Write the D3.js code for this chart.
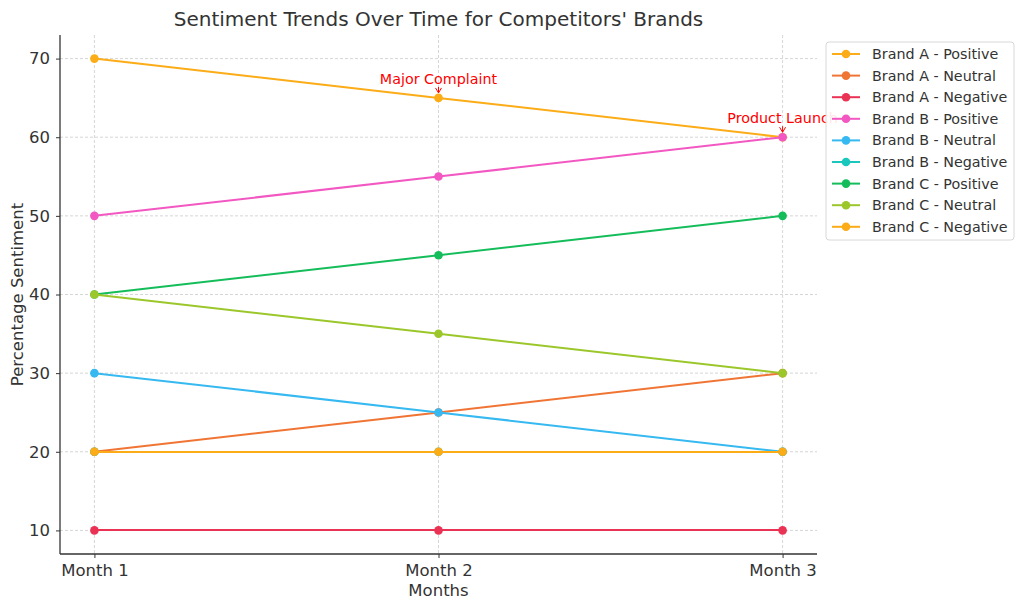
<!DOCTYPE html>
<html><head><meta charset="utf-8">
<script src="https://cdn.jsdelivr.net/npm/d3@7"></script>
<style>body{margin:0;background:#fff;} svg text{font-family:"DejaVu Sans",sans-serif;}</style>
</head><body><svg id="c" width="1024" height="610"></svg>
<script>
const months = ["Month 1", "Month 2", "Month 3"];
const seriesNames = ["Brand A - Positive","Brand A - Neutral","Brand A - Negative","Brand B - Positive","Brand B - Neutral","Brand B - Negative","Brand C - Positive","Brand C - Neutral","Brand C - Negative"];
const brandAPositive = [70, 65, 60];
const brandANeutral = [20, 25, 30];
const brandANegative = [10, 10, 10];
const brandBPositive = [50, 55, 60];
const brandBNeutral = [30, 25, 20];
const brandBNegative = [20, 20, 20];
const brandCPositive = [40, 45, 50];
const brandCNeutral = [40, 35, 30];
const brandCNegative = [20, 20, 20];
const colors = ["#fbac17","#f07535","#ea3354","#f257c2","#36b9f0","#1ac7bd","#14bd5a","#9bc72a","#fbac17"];
const yTicks = [10, 20, 30, 40, 50, 60, 70];
const annotations = [{text:"Major Complaint", month:1, value:65},{text:"Product Launch", month:2, value:60}];

const allSeries = [brandAPositive,brandANeutral,brandANegative,brandBPositive,brandBNeutral,brandBNegative,brandCPositive,brandCNeutral,brandCNegative];

const svg = d3.select("#c");
const L=60, R=817, T=35, B=554;
const x = d3.scaleLinear().domain([-0.1, 2.1]).range([L, R]);
const y = d3.scaleLinear().domain([7, 73]).range([B, T]);

// grid
const g = svg.append("g");
g.selectAll(".hg").data(yTicks).enter().append("line")
  .attr("x1", L).attr("x2", R).attr("y1", d=>y(d)).attr("y2", d=>y(d))
  .attr("stroke", "#cccccc").attr("stroke-width", 0.8).attr("stroke-dasharray", "3,2");
g.selectAll(".vg").data(months).enter().append("line")
  .attr("x1", (d,i)=>x(i)).attr("x2", (d,i)=>x(i)).attr("y1", T).attr("y2", B)
  .attr("stroke", "#cccccc").attr("stroke-width", 0.8).attr("stroke-dasharray", "3,2");

// axes
const xAxis = d3.axisBottom(x).tickValues([0,1,2]).tickFormat(i=>months[i]).tickSize(4).tickPadding(6);
const yAxis = d3.axisLeft(y).tickValues(yTicks).tickSize(4).tickPadding(6);
const ax = svg.append("g").attr("transform", `translate(0,${B})`).call(xAxis);
const ay = svg.append("g").attr("transform", `translate(${L},0)`).call(yAxis);
[ax, ay].forEach(a=>{
  a.selectAll(".tick line").attr("stroke", "#333");
  a.selectAll(".tick text").attr("fill", "#333").style("font-size", "16.5px").style("font-family", "DejaVu Sans");
  a.select(".domain").attr("stroke", "#333").attr("stroke-width", 1.3);
});
ax.select(".domain").attr("d", `M${L},0H${R}`);
ay.select(".domain").attr("d", `M0,${B}V${T}`);

// lines
const line = d3.line().x((d,i)=>x(i)).y(d=>y(d));
allSeries.forEach((s, k)=>{
  const sg = svg.append("g");
  const flat = s.every(v => v === s[0]);
  sg.append("path").datum(s).attr("d", line).attr("fill", "none")
    .attr("stroke", colors[k]).attr("stroke-width", 2)
    .attr("shape-rendering", flat ? "crispEdges" : "auto");
  sg.selectAll("circle").data(s).enter().append("circle")
    .attr("cx", (d,i)=>x(i)).attr("cy", d=>y(d)).attr("r", 4.3).attr("fill", colors[k]);
});

// annotations
annotations.forEach(a=>{
  const px = x(a.month), py = y(a.value);
  svg.append("text").attr("x", px).attr("y", py - 14).attr("text-anchor", "middle")
    .attr("fill", "red").style("font-size", "14.3px").text(a.text);
  svg.append("path").attr("d", `M${px-3},${py-10}L${px},${py-5}L${px+3},${py-10}`)
    .attr("fill", "none").attr("stroke", "red").attr("stroke-width", 1);
  svg.append("line").attr("x1", px).attr("x2", px).attr("y1", py-11).attr("y2", py-5)
    .attr("stroke", "red").attr("stroke-width", 1);
});

// title & labels
svg.append("text").attr("x", (L+R)/2).attr("y", 26).attr("text-anchor", "middle")
  .attr("fill", "#333").style("font-size", "20px").text("Sentiment Trends Over Time for Competitors' Brands");
svg.append("text").attr("x", (L+R)/2).attr("y", 596).attr("text-anchor", "middle")
  .attr("fill", "#333").style("font-size", "16.5px").text("Months");
svg.append("text").attr("transform", `translate(23,${(T+B)/2}) rotate(-90)`).attr("text-anchor", "middle")
  .attr("fill", "#333").style("font-size", "16.5px").text("Percentage Sentiment");

// legend
const lg = svg.append("g");
lg.append("rect").attr("x", 826).attr("y", 42).attr("width", 188).attr("height", 198)
  .attr("rx", 3).attr("fill", "white").attr("fill-opacity", 0.9).attr("stroke", "#d8d8d8");
seriesNames.forEach((n, k)=>{
  const yy = 54 + k*21.6;
  lg.append("line").attr("x1", 832).attr("x2", 860).attr("y1", yy).attr("y2", yy)
    .attr("stroke", colors[k]).attr("stroke-width", 2);
  lg.append("circle").attr("cx", 846).attr("cy", yy).attr("r", 4.3).attr("fill", colors[k]);
  lg.append("text").attr("x", 872).attr("y", yy + 5).attr("fill", "#333")
    .style("font-size", "14.3px").text(n);
});
</script></body></html>
